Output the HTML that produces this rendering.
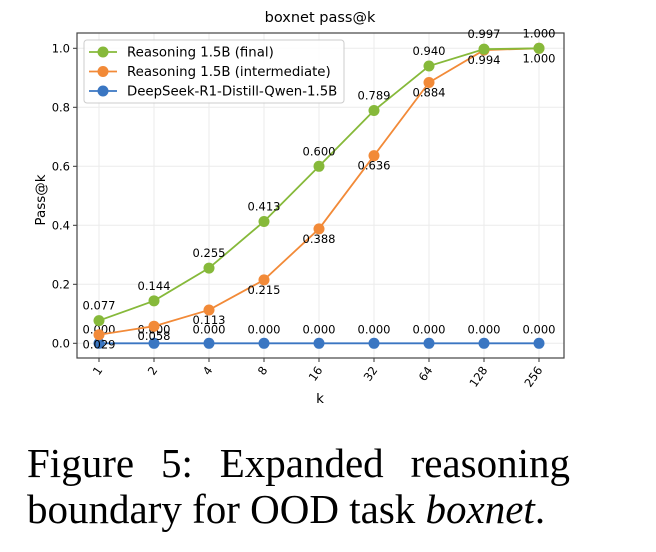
<!DOCTYPE html>
<html><head><meta charset="utf-8"><style>
body{margin:0;background:#fff;width:656px;height:552px;overflow:hidden;position:relative}
svg text{font-family:"DejaVu Sans","Liberation Sans",sans-serif}
.cap{position:absolute;left:27px;width:543px;font-family:"Liberation Serif",serif;font-size:41px;color:#000;line-height:46px;white-space:nowrap}
</style></head><body>
<svg id="chart" width="656" height="430" style="position:absolute;left:0;top:0">
<g id="grid"></g>
<g id="axes"></g>
<g id="series"></g>
<text x="320" y="22" text-anchor="middle" font-size="14.5">boxnet pass@k</text>
<text transform="translate(45,200) rotate(-90)" text-anchor="middle" font-size="13.5">Pass@k</text>
<text x="320" y="403" text-anchor="middle" font-size="13.5">k</text>
<g>
<rect x="84" y="40" width="260" height="63" rx="3" fill="#fff" fill-opacity="0.85" stroke="#ccc"/>
<g id="legend-items"></g>
</g>
</svg>
<div class="cap" style="top:440px;display:flex;justify-content:space-between"><span>Figure</span><span>5:</span><span>Expanded</span><span>reasoning</span></div>
<div class="cap" style="top:486px">boundary for OOD task <i>boxnet</i>.</div>
<script>
const categories=["1","2","4","8","16","32","64","128","256"];
const finalVals=[0.077,0.144,0.255,0.413,0.600,0.789,0.940,0.997,1.000];
const interVals=[0.029,0.058,0.113,0.215,0.388,0.636,0.884,0.994,1.000];
const baseVals=[0,0,0,0,0,0,0,0,0];
const yTicks=[0.0,0.2,0.4,0.6,0.8,1.0];
const seriesNames=["Reasoning 1.5B (final)","Reasoning 1.5B (intermediate)","DeepSeek-R1-Distill-Qwen-1.5B"];
const L=77,R=564,T=33,B=358;
const xs=i=>99+i*55;
const ys=v=>343.3-v*295;
const NS="http://www.w3.org/2000/svg";
function mk(tag,attrs,parent){const e=document.createElementNS(NS,tag);for(const k in attrs)e.setAttribute(k,attrs[k]);parent.appendChild(e);return e;}
const grid=document.getElementById('grid'),axes=document.getElementById('axes'),ser=document.getElementById('series');
categories.forEach((c,i)=>{
  const g=mk('line',{x1:xs(i),x2:xs(i),y1:T,y2:B,stroke:'#ebebeb','stroke-width':1},grid);
  
  
  mk('line',{x1:xs(i),x2:xs(i),y1:B,y2:B+4,stroke:'#333'},axes);
  const t=mk('text',{x:0,y:0,'font-size':11.5,'text-anchor':'end',transform:`translate(${xs(i)+4},${B+12}) rotate(-55)`},axes);
  t.textContent=c;
  
  
});
yTicks.forEach(v=>{
  const g=mk('line',{x1:L,x2:R,y1:ys(v),y2:ys(v),stroke:'#ebebeb'},grid);
  
  
  mk('line',{x1:L-4,x2:L,y1:ys(v),y2:ys(v),stroke:'#333'},axes);
  const t=mk('text',{x:L-7,y:ys(v)+4,'font-size':11.5,'text-anchor':'end'},axes);
  t.textContent=v.toFixed(1);
  
  
});
const fr=mk('rect',{x:L,y:T,width:R-L,height:B-T,fill:'none',stroke:'#444','stroke-width':1.2},axes);


const defs=[{vals:baseVals,color:'#3a76c2',off:-10,name:'series-deepseek'},{vals:interVals,color:'#f28a38',off:14,name:'series-intermediate'},{vals:finalVals,color:'#86b93a',off:-11,name:'series-final'}];
defs.forEach(s=>{
  const g=mk('g',{},ser);
  
  
  mk('polyline',{points:s.vals.map((v,i)=>xs(i)+','+ys(v)).join(' '),fill:'none',stroke:s.color,'stroke-width':1.8},g);
  s.vals.forEach((v,i)=>{
    const c=mk('circle',{cx:xs(i),cy:ys(v),r:5.5,fill:s.color},g);
    
    
    const t=mk('text',{x:xs(i),y:ys(v)+s.off,'font-size':11.5,'text-anchor':'middle'},g);
    t.textContent=v.toFixed(3);
    
    
  });
});
const li=document.getElementById('legend-items');
const lc=['#86b93a','#f28a38','#3a76c2'];
seriesNames.forEach((n,i)=>{
  const y=52+i*19.5;
  const g=mk('g',{},li);
  
  
  mk('line',{x1:89,x2:117,y1:y,y2:y,stroke:lc[i],'stroke-width':1.8},g);
  mk('circle',{cx:103,cy:y,r:5.5,fill:lc[i]},g);
  const t=mk('text',{x:127,y:y+4.5,'font-size':13.3},g);
  t.textContent=n;
});
</script>
</body></html>
